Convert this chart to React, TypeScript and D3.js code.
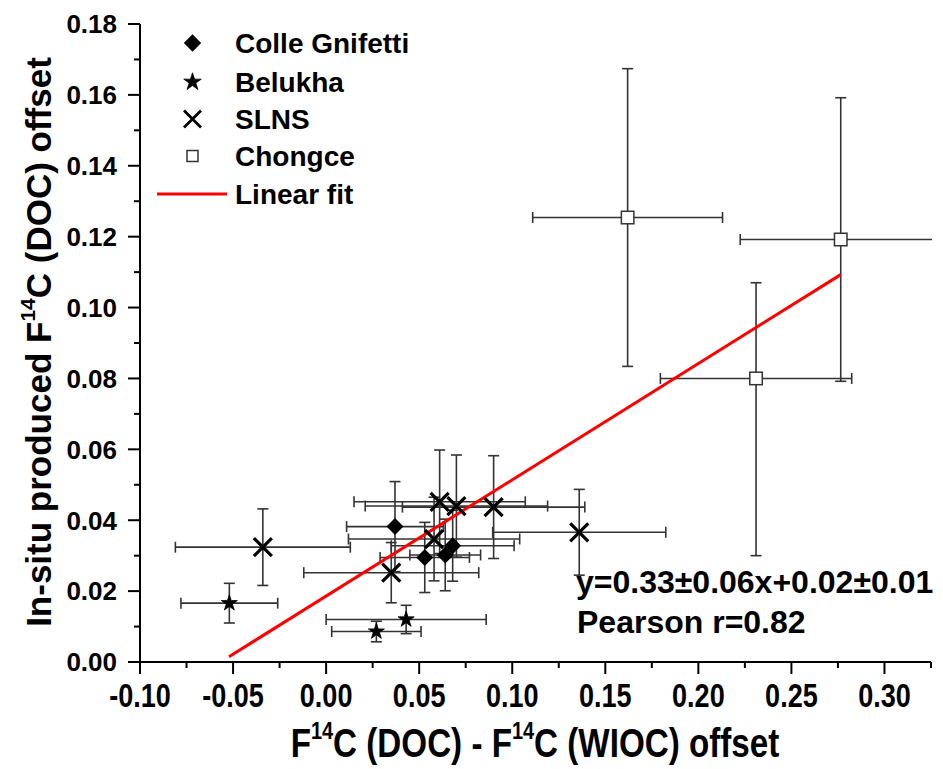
import React, { useEffect, useRef } from "react";
import * as d3 from "d3";

const W = 943;
const H = 769;

// Colle Gnifetti
const cgX = [0.037, 0.053, 0.064, 0.068];
const cgY = [0.0382, 0.0295, 0.0302, 0.0328];
const cgXErr = [0.026, 0.024, 0.019, 0.033];
const cgYErr = [0.0127, 0.0099, 0.0101, 0.01];

// Belukha
const beX = [-0.052, 0.043, 0.027];
const beY = [0.0166, 0.012, 0.0086];
const beXErr = [0.026, 0.043, 0.024];
const beYErr = [0.0056, 0.004, 0.0029];

// SLNS
const slX = [-0.034, 0.035, 0.061, 0.07, 0.09, 0.136, 0.058];
const slY = [0.0324, 0.0252, 0.0452, 0.044, 0.0437, 0.0366, 0.0347];
const slXErr = [0.047, 0.047, 0.046, 0.049, 0.049, 0.0465, 0.046];
const slYErr = [0.0108, 0.0085, 0.0146, 0.0144, 0.0145, 0.0121, 0.0118];

// Chongce
const chX = [0.162, 0.2765, 0.231];
const chY = [0.1254, 0.1192, 0.08];
const chXErr = [0.051, 0.054, 0.0514];
const chYErrLow = [0.042, 0.04, 0.05];
const chYErrHigh = [0.042, 0.04, 0.027];

// linear fit
const fitSlope = 0.328;
const fitIntercept = 0.0186;
const fitRange = [-0.0522, 0.2765];

// axes
const xDomain = [-0.1, 0.325];
const yDomain = [0, 0.18];
const xTicks = [-0.1, -0.05, 0, 0.05, 0.1, 0.15, 0.2, 0.25, 0.3];
const xMinorTicks = [-0.075, -0.025, 0.025, 0.075, 0.125, 0.175, 0.225, 0.275, 0.325];
const yTicks = [0, 0.02, 0.04, 0.06, 0.08, 0.1, 0.12, 0.14, 0.16, 0.18];
const yMinorTicks = [0.01, 0.03, 0.05, 0.07, 0.09, 0.11, 0.13, 0.15, 0.17];

const legendLabels = ["Colle Gnifetti", "Belukha", "SLNS", "Chongce", "Linear fit"];

const FONT = "'Liberation Sans', Arial, sans-serif";

const toPoints = (xs, ys, xe, yl, yh) =>
  xs.map((x, i) => ({ x, y: ys[i], xe: xe[i], yl: yl[i], yh: yh[i] }));

export default function App() {
  const ref = useRef(null);

  useEffect(() => {
    const svg = d3.select(ref.current);
    svg.selectAll("*").remove();

    const x = d3.scaleLinear().domain(xDomain).range([140, 931]);
    const y = d3.scaleLinear().domain(yDomain).range([662, 24]);

    const series = [
      { name: "cg", pts: toPoints(cgX, cgY, cgXErr, cgYErr, cgYErr) },
      { name: "be", pts: toPoints(beX, beY, beXErr, beYErr, beYErr) },
      { name: "sl", pts: toPoints(slX, slY, slXErr, slYErr, slYErr) },
      { name: "ch", pts: toPoints(chX, chY, chXErr, chYErrLow, chYErrHigh) },
    ];

    svg.append("defs")
      .append("clipPath")
      .attr("id", "plotclip")
      .append("rect")
      .attr("x", 140)
      .attr("y", 20)
      .attr("width", 792)
      .attr("height", 646);

    // ==========================
    // Error bars
    // ==========================
    const eb = svg.append("g")
      .attr("clip-path", "url(#plotclip)")
      .attr("stroke", "#333")
      .attr("stroke-width", 1.6)
      .attr("fill", "none");
    const cap = 5.5;

    series.forEach(s => {
      s.pts.forEach(p => {
        const cx = x(p.x);
        const cy = y(p.y);
        const x0 = x(p.x - p.xe);
        const x1 = x(p.x + p.xe);
        const y0 = y(p.y - p.yl);
        const y1 = y(p.y + p.yh);
        eb.append("line").attr("x1", x0).attr("x2", x1).attr("y1", cy).attr("y2", cy);
        eb.append("line").attr("x1", x0).attr("x2", x0).attr("y1", cy - cap).attr("y2", cy + cap);
        eb.append("line").attr("x1", x1).attr("x2", x1).attr("y1", cy - cap).attr("y2", cy + cap);
        eb.append("line").attr("x1", cx).attr("x2", cx).attr("y1", y0).attr("y2", y1);
        eb.append("line").attr("x1", cx - cap).attr("x2", cx + cap).attr("y1", y0).attr("y2", y0);
        eb.append("line").attr("x1", cx - cap).attr("x2", cx + cap).attr("y1", y1).attr("y2", y1);
      });
    });

    // ==========================
    // Linear fit
    // ==========================
    const line = d3.line().x(d => x(d[0])).y(d => y(d[1]));
    svg.append("path")
      .attr("d", line(fitRange.map(v => [v, fitSlope * v + fitIntercept])))
      .attr("stroke", "#ff0000")
      .attr("stroke-width", 3)
      .attr("fill", "none");

    // ==========================
    // Markers
    // ==========================
    const drawMarker = (g, name, cx, cy, legend) => {
      if (name === "cg") {
        g.append("path")
          .attr("d", d3.symbol(d3.symbolSquare, legend ? 150 : 144)())
          .attr("transform", `translate(${cx},${cy}) rotate(45)`)
          .attr("fill", "#000");
      } else if (name === "be") {
        g.append("path")
          .attr("d", d3.symbol(d3.symbolStar, legend ? 95 : 80)())
          .attr("transform", `translate(${cx},${cy})`)
          .attr("fill", "#000")
          .attr("stroke", "#000")
          .attr("stroke-width", 0.8);
      } else if (name === "sl") {
        const r = legend ? 8.5 : 9;
        g.append("path")
          .attr("d", `M${-r},${-r}L${r},${r}M${-r},${r}L${r},${-r}`)
          .attr("transform", `translate(${cx},${cy})`)
          .attr("stroke", "#000")
          .attr("stroke-width", legend ? 2.8 : 3.2)
          .attr("fill", "none");
      } else {
        const a = legend ? 11 : 12.5;
        g.append("rect")
          .attr("x", cx - a / 2)
          .attr("y", cy - a / 2)
          .attr("width", a)
          .attr("height", a)
          .attr("fill", "#fff")
          .attr("stroke", "#333")
          .attr("stroke-width", 1.5);
      }
    };

    const mk = svg.append("g");
    series.forEach(s => {
      s.pts.forEach(p => drawMarker(mk, s.name, x(p.x), y(p.y), false));
    });

    // ==========================
    // Axes
    // ==========================
    const ax = svg.append("g").attr("stroke", "#000").attr("stroke-width", 2);
    ax.append("line").attr("x1", 140).attr("x2", 140).attr("y1", y(0.18)).attr("y2", 662);
    ax.append("line").attr("x1", 140).attr("x2", x(0.325)).attr("y1", 662).attr("y2", 662);

    yTicks.forEach(t => {
      ax.append("line").attr("x1", 128).attr("x2", 140).attr("y1", y(t)).attr("y2", y(t));
    });
    yMinorTicks.forEach(t => {
      ax.append("line").attr("x1", 134).attr("x2", 140).attr("y1", y(t)).attr("y2", y(t));
    });
    xTicks.forEach(t => {
      ax.append("line").attr("x1", x(t)).attr("x2", x(t)).attr("y1", 662).attr("y2", 674);
    });
    xMinorTicks.forEach(t => {
      ax.append("line").attr("x1", x(t)).attr("x2", x(t)).attr("y1", 662).attr("y2", 668);
    });

    const fmt = d3.format(".2f");

    svg.append("g")
      .selectAll("text")
      .data(yTicks)
      .enter()
      .append("text")
      .attr("x", 117)
      .attr("y", d => y(d))
      .attr("dy", "0.36em")
      .attr("text-anchor", "end")
      .attr("font-family", FONT)
      .attr("font-weight", "bold")
      .attr("font-size", 26)
      .text(d => fmt(d));

    // x tick labels: condensed look, squeezed horizontally
    svg.append("g")
      .selectAll("text")
      .data(xTicks)
      .enter()
      .append("text")
      .attr("transform", d => `translate(${x(d)},707) scale(0.82,1)`)
      .attr("text-anchor", "middle")
      .attr("font-family", FONT)
      .attr("font-weight", "bold")
      .attr("font-size", 33)
      .text(d => fmt(d).replace("\u2212", "-"));

    // axis titles
    const xt = svg.append("text")
      .attr("transform", "translate(535,757) scale(0.83,1)")
      .attr("text-anchor", "middle")
      .attr("font-family", FONT)
      .attr("font-weight", "bold")
      .attr("font-size", 40);
    xt.append("tspan").text("F");
    xt.append("tspan").attr("font-size", "0.6em").attr("dy", "-0.75em").text("14");
    xt.append("tspan").attr("dy", "0.45em").text("C (DOC) - F");
    xt.append("tspan").attr("font-size", "0.6em").attr("dy", "-0.75em").text("14");
    xt.append("tspan").attr("dy", "0.45em").text("C (WIOC) offset");

    const yt = svg.append("text")
      .attr("transform", "translate(51,342) rotate(-90)")
      .attr("text-anchor", "middle")
      .attr("font-family", FONT)
      .attr("font-weight", "bold")
      .attr("font-size", 35);
    yt.append("tspan").text("In-situ produced F");
    yt.append("tspan").attr("font-size", "0.6em").attr("dy", "-0.75em").text("14");
    yt.append("tspan").attr("dy", "0.45em").text("C (DOC) offset");

    // ==========================
    // Legend
    // ==========================
    const rows = [43, 82, 119, 156, 194];
    const lg = svg.append("g");
    legendLabels.forEach((label, i) => {
      const ry = rows[i];
      if (i < 4) {
        drawMarker(lg, series[i].name, 192.5, ry, true);
      } else {
        lg.append("line")
          .attr("x1", 157)
          .attr("x2", 227)
          .attr("y1", ry)
          .attr("y2", ry)
          .attr("stroke", "#ff0000")
          .attr("stroke-width", 3);
      }
      lg.append("text")
        .attr("x", 235)
        .attr("y", ry + 9.5)
        .attr("font-family", FONT)
        .attr("font-weight", "bold")
        .attr("font-size", 28)
        .text(label);
    });

    // ==========================
    // Fit annotation
    // ==========================
    const ann = svg.append("g")
      .attr("font-family", FONT)
      .attr("font-weight", "bold")
      .attr("font-size", 32);
    ann.append("text").attr("x", 576).attr("y", 593).text("y=0.33\u00b10.06x+0.02\u00b10.01");
    ann.append("text").attr("x", 577).attr("y", 633).text("Pearson r=0.82");
  }, []);

  return (
    <svg
      ref={ref}
      width={W}
      height={H}
      style={{ position: "absolute", left: 0, top: 0, background: "#fff" }}
    />
  );
}
